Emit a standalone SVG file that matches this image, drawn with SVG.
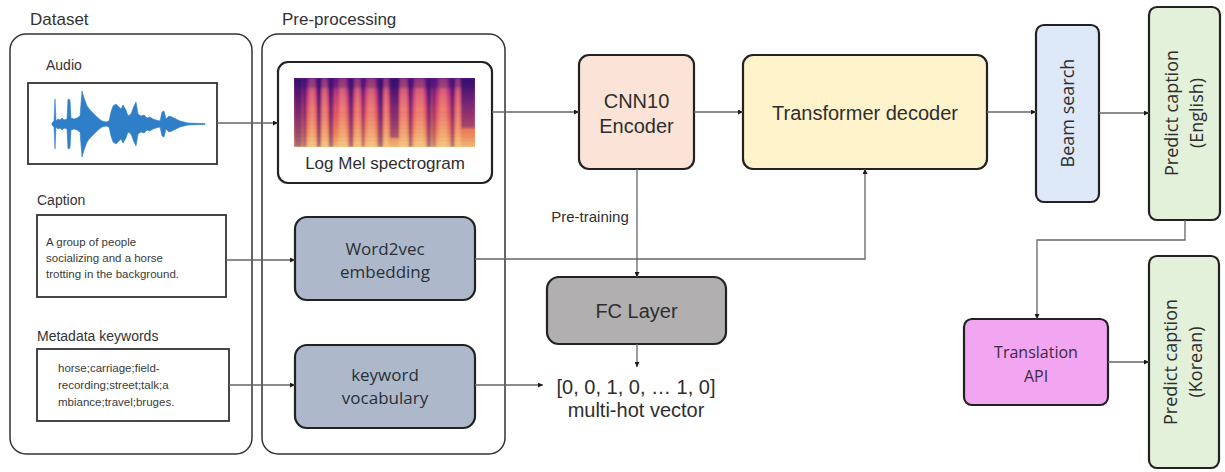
<svg xmlns="http://www.w3.org/2000/svg" width="1225" height="472" viewBox="0 0 1225 472">
  <defs>
    <marker id="arr" viewBox="0 0 10 10" refX="10" refY="5" markerWidth="5" markerHeight="5" orient="auto" markerUnits="userSpaceOnUse">
      <path d="M0,0 L10,5 L0,10 Z" fill="#1a1a1a"/>
    </marker>
    <linearGradient id="specBase" x1="0" y1="0" x2="0" y2="1">
      <stop offset="0" stop-color="#6a1f8f"/>
      <stop offset="0.25" stop-color="#c23a7c"/>
      <stop offset="0.55" stop-color="#ec5f62"/>
      <stop offset="0.8" stop-color="#f78e58"/>
      <stop offset="1" stop-color="#fcc579"/>
    </linearGradient>
    <linearGradient id="darkStripe" x1="0" y1="0" x2="0" y2="1">
      <stop offset="0" stop-color="#2e0a66" stop-opacity="0.9"/>
      <stop offset="0.6" stop-color="#4a1278" stop-opacity="0.6"/>
      <stop offset="1" stop-color="#5a167a" stop-opacity="0.45"/>
    </linearGradient>
    <linearGradient id="brightStripe" x1="0" y1="0" x2="0" y2="1">
      <stop offset="0" stop-color="#f7736a" stop-opacity="0.5"/>
      <stop offset="1" stop-color="#ffe08f" stop-opacity="0.6"/>
    </linearGradient>
    <pattern id="harm" x="0" y="0" width="4" height="4" patternUnits="userSpaceOnUse">
      <rect x="0" y="0" width="4" height="1.2" fill="#8c2a72" fill-opacity="0.3"/>
    </pattern>
    <filter id="soft" x="-5%" y="-5%" width="110%" height="110%">
      <feGaussianBlur stdDeviation="0.9"/>
    </filter>
    <clipPath id="specClip"><rect x="294" y="78" width="181" height="69"/></clipPath>
  </defs>
  <style>
    .cont { fill: none; stroke: #333; stroke-width: 1.5; }
    .src { fill: #fff; stroke: #333; stroke-width: 1.8; }
    .box { stroke: #222; stroke-width: 2.2; }
    .lbl { font-family: "Liberation Sans", Arial, sans-serif; fill: #333; }
    .ar { font-family: "Liberation Sans", Arial, sans-serif; fill: #2e2e2e; text-anchor: middle; }
    .os { font-family: "Open Sans", "Noto Sans", sans-serif; text-anchor: middle; }
    .small { font-family: "Liberation Sans", Arial, sans-serif; fill: #3a3a3a; font-size: 11.5px; }
    .conn { fill: none; stroke: #666; stroke-width: 1.3; }
    .arr { marker-end: url(#arr); }
  </style>

  <g id="dataset">
    <rect class="cont" x="10" y="34" width="242" height="420" rx="16"/>
    <text class="lbl" x="30" y="25" font-size="17">Dataset</text>
  </g>

  <g id="audio">
    <text class="lbl" x="46" y="70" font-size="14">Audio</text>
    <rect class="src" x="28" y="83" width="189" height="81"/>
    <path fill="#2f7fc8" stroke="#2f7fc8" stroke-width="0.6" d="M52,123 L54,121 L55,99 L56,121 L58,119 L60,120 L62,118 L64,120 L67,119 L68,99 L70,100 L71,118 L74,119 L77,118 L80,116 L82,91 L84,98 L87,106 L90,110 L94,114 L98,118 L102,121 L106,122 L109,121 L111,112 L113,106 L116,104 L119,107 L121,109 L123,105 L126,110 L128,116 L131,114 L134,106 L136,102 L138,114 L141,116 L144,115 L147,118 L150,117 L153,119 L156,120 L160,121 L162,112 L164,111 L166,119 L169,116 L172,117 L176,119 L180,121 L184,122 L188,123 L205,123.6 L205,124.4 L188,125 L184,126 L180,127 L176,129 L172,131 L169,132 L166,129 L164,137 L162,136 L160,127 L156,128 L153,129 L150,131 L147,130 L144,133 L141,132 L138,134 L136,146 L134,142 L131,134 L128,132 L126,138 L123,143 L121,139 L119,141 L116,144 L113,142 L111,136 L109,127 L106,126 L102,127 L98,130 L94,134 L90,138 L87,142 L84,150 L82,157 L80,132 L77,130 L74,129 L71,130 L70,148 L68,149 L67,129 L64,128 L62,130 L60,128 L58,129 L56,127 L55,149 L54,127 L52,125 Z"/>
  </g>

  <g id="caption">
    <text class="lbl" x="37" y="205" font-size="14">Caption</text>
    <rect class="src" x="37" y="215" width="189" height="82"/>
    <text class="small" x="46" y="246">A group of people</text>
    <text class="small" x="46" y="262">socializing and a horse</text>
    <text class="small" x="46" y="278">trotting in the background.</text>
  </g>

  <g id="metadata">
    <text class="lbl" x="37" y="341" font-size="14">Metadata keywords</text>
    <rect class="src" x="37" y="349" width="192" height="72"/>
    <text class="small" x="58" y="372">horse;carriage;field-</text>
    <text class="small" x="58" y="389">recording;street;talk;a</text>
    <text class="small" x="58" y="406">mbiance;travel;bruges.</text>
  </g>

  <g id="preprocessing">
    <rect class="cont" x="262" y="34" width="243" height="420" rx="16"/>
    <text class="lbl" x="282" y="25" font-size="17">Pre-processing</text>
  </g>

  <g id="logmel">
    <rect x="278" y="62" width="214" height="121" rx="10" fill="#fff" stroke="#222" stroke-width="2.2"/>
    <g clip-path="url(#specClip)">
      <rect x="294" y="78" width="181" height="69" fill="url(#specBase)"/>
      <g filter="url(#soft)">
        <g fill="url(#brightStripe)">
          <rect x="309" y="78" width="6" height="69"/>
          <rect x="322" y="78" width="5" height="69"/>
          <rect x="339" y="78" width="7" height="69"/>
          <rect x="355" y="78" width="5" height="69"/>
          <rect x="367" y="78" width="8" height="69"/>
          <rect x="384" y="78" width="4" height="69"/>
          <rect x="400" y="78" width="7" height="69"/>
          <rect x="415" y="78" width="9" height="69"/>
          <rect x="439" y="78" width="8" height="69"/>
          <rect x="456" y="78" width="4" height="69"/>
        </g>
        <rect x="294" y="110" width="181" height="37" fill="url(#harm)"/>
        <g fill="url(#darkStripe)">
          <rect x="294" y="78" width="8" height="69"/>
          <rect x="303" y="78" width="3" height="69"/>
          <rect x="317" y="78" width="4" height="69"/>
          <rect x="329" y="78" width="4" height="69"/>
          <rect x="349" y="78" width="4" height="69"/>
          <rect x="362" y="78" width="2" height="69"/>
          <rect x="378" y="78" width="5" height="69"/>
          <rect x="390" y="78" width="9" height="60"/>
          <rect x="409" y="78" width="3" height="69"/>
          <rect x="427" y="78" width="4" height="69"/>
          <rect x="433" y="78" width="2" height="69"/>
          <rect x="451" y="78" width="3" height="69"/>
          <rect x="461" y="78" width="14" height="50"/>
        </g>
        <rect x="294" y="78" width="181" height="10" fill="#3a0d70" fill-opacity="0.3"/>
      </g>
    </g>
    <text class="ar" x="385" y="169" font-size="17">Log Mel spectrogram</text>
  </g>

  <g id="word2vec">
    <rect class="box" x="295" y="217" width="180" height="83" rx="12" fill="#adb9ca"/>
    <text class="os" x="385" y="255" font-size="17" fill="#2a2f37">Word2vec</text>
    <text class="os" x="385" y="278" font-size="17" fill="#2a2f37">embedding</text>
  </g>

  <g id="keyword">
    <rect class="box" x="295" y="345" width="180" height="83" rx="12" fill="#adb9ca"/>
    <text class="os" x="385" y="381" font-size="17" fill="#2a2f37">keyword</text>
    <text class="os" x="385" y="404" font-size="17" fill="#2a2f37">vocabulary</text>
  </g>

  <g id="cnn10">
    <rect class="box" x="579" y="55" width="115" height="114" rx="10" fill="#fbe4d7"/>
    <text class="ar" x="636.5" y="108" font-size="20">CNN10</text>
    <text class="ar" x="636.5" y="133" font-size="20">Encoder</text>
  </g>

  <g id="transformer">
    <rect class="box" x="743" y="55" width="244" height="114" rx="10" fill="#fff3cc"/>
    <text class="ar" x="865" y="120" font-size="20">Transformer decoder</text>
  </g>

  <g id="fclayer">
    <rect class="box" x="547" y="277" width="179" height="67" rx="12" fill="#b1afaf"/>
    <text class="ar" x="636.5" y="318" font-size="20">FC Layer</text>
  </g>

  <g id="multihot">
    <text class="ar" x="636" y="394" font-size="20">[0, 0, 1, 0, … 1, 0]</text>
    <text class="ar" x="636" y="417" font-size="20">multi-hot vector</text>
  </g>

  <g id="pretraining">
    <text class="ar" x="590" y="222" font-size="15">Pre-training</text>
  </g>

  <g id="beamsearch">
    <rect class="box" x="1036" y="25" width="63" height="177" rx="8" fill="#dde8f9"/>
    <text class="os" transform="translate(1068,113) rotate(-90)" x="0" y="6" font-size="18" fill="#2e2e2e">Beam search</text>
  </g>

  <g id="predict-english">
    <rect class="box" x="1149" y="7" width="71" height="213" rx="8" fill="#e3f0da"/>
    <text class="os" transform="translate(1185,113) rotate(-90)" x="0" y="-7" font-size="18" fill="#2e2e2e">Predict caption</text>
    <text class="os" transform="translate(1185,113) rotate(-90)" x="0" y="18" font-size="18" fill="#2e2e2e">(English)</text>
  </g>

  <g id="translation">
    <rect class="box" x="964" y="319" width="144" height="86" rx="8" fill="#f2a5f0"/>
    <text class="os" x="1036" y="358" font-size="16" fill="#3d2a3d">Translation</text>
    <text class="os" x="1036" y="382" font-size="16" fill="#3d2a3d">API</text>
  </g>

  <g id="predict-korean">
    <rect class="box" x="1149" y="256" width="70" height="212" rx="8" fill="#e3f0da"/>
    <text class="os" transform="translate(1184,362) rotate(-90)" x="0" y="-7" font-size="18" fill="#2e2e2e">Predict caption</text>
    <text class="os" transform="translate(1184,362) rotate(-90)" x="0" y="18" font-size="18" fill="#2e2e2e">(Korean)</text>
  </g>

  <g id="connectors">
    <path class="conn arr" d="M217,123 L278,123"/>
    <path class="conn arr" d="M492,112 L579,112"/>
    <path class="conn arr" d="M694,112 L743,112"/>
    <path class="conn arr" d="M987,112 L1036,112"/>
    <path class="conn arr" d="M1099,113 L1149,113"/>
    <path class="conn arr" d="M1185,220 L1185,240 L1037,240 L1037,319"/>
    <path class="conn arr" d="M1108,362 L1149,362"/>
    <path class="conn arr" d="M226,260 L295,260"/>
    <path class="conn arr" d="M229,385 L295,385"/>
    <path class="conn arr" d="M475,385 L543,385"/>
    <path class="conn arr" d="M475,259 L865,259 L865,169"/>
    <path class="conn arr" d="M637,169 L637,277"/>
    <path class="conn arr" d="M637,344 L637,367"/>
  </g>
</svg>
